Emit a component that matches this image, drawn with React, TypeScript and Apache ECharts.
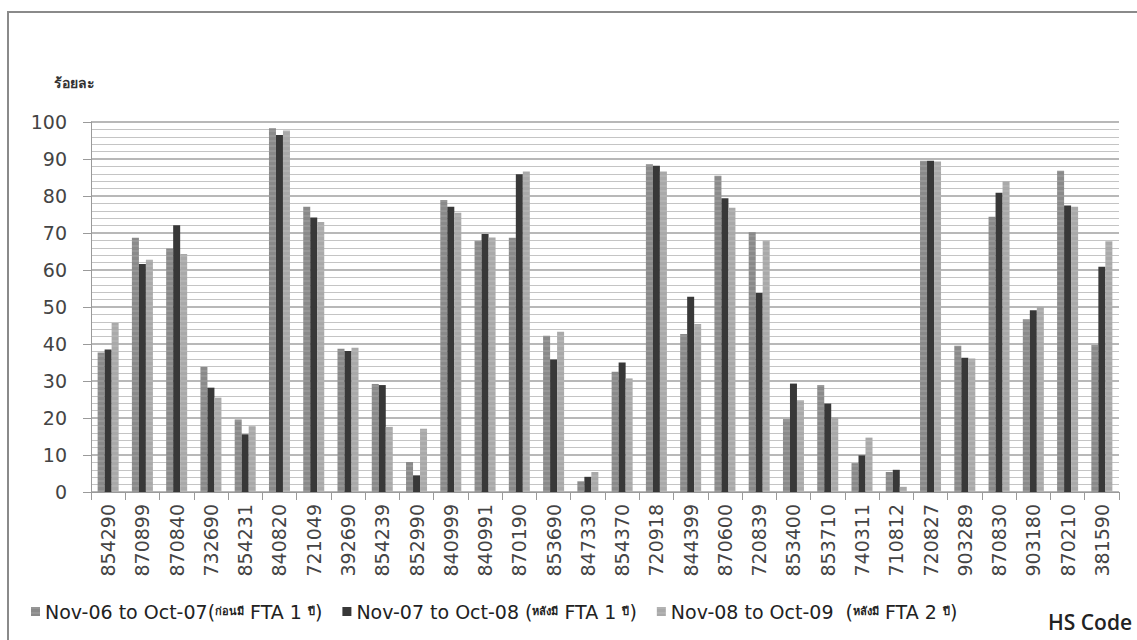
import React, { useEffect, useRef } from "react";
import * as echarts from "echarts";

// HS codes on the category axis
const hsCodes = [
  "854290", "870899", "870840", "732690", "854231", "840820", "721049", "392690",
  "854239", "852990", "840999", "840991", "870190", "853690", "847330", "854370",
  "720918", "844399", "870600", "720839", "853400", "853710", "740311", "710812",
  "720827", "903289", "870830", "903180", "870210", "381590",
];

const seriesNames = [
  "Nov-06 to Oct-07(ก่อนมี FTA 1 ปี)",
  "Nov-07 to Oct-08 (หลังมี FTA 1 ปี)",
  "Nov-08 to Oct-09  (หลังมี FTA 2 ปี)",
];

// percentage per HS code, one array per period
const period1 = [
  37.7, 68.7, 65.8, 33.8, 19.6, 98.3, 77.1, 38.7, 29.2, 8.1,
  78.9, 67.9, 68.7, 42.2, 2.9, 32.5, 88.6, 42.7, 85.5, 70.2,
  19.7, 28.9, 7.8, 5.4, 89.5, 39.5, 74.4, 46.7, 86.8, 39.7,
];
const period2 = [
  38.5, 61.6, 72.1, 28.2, 15.6, 96.5, 74.2, 38.1, 28.9, 4.5,
  77.1, 69.7, 85.9, 35.8, 4.1, 35.0, 88.2, 52.8, 79.4, 53.8,
  29.3, 23.9, 9.9, 6.0, 89.5, 36.3, 80.9, 49.1, 77.4, 60.9,
];
const period3 = [
  45.7, 62.8, 64.3, 25.5, 17.8, 97.7, 73.0, 39.0, 17.6, 17.1,
  75.5, 68.8, 86.6, 43.3, 5.4, 30.7, 86.6, 45.4, 76.8, 67.9,
  24.8, 20.1, 14.7, 1.4, 89.3, 36.1, 84.0, 50.0, 77.1, 67.8,
];

const yTicks = { min: 0, max: 100, interval: 10 };

const seriesColors = ["#8a8a8a", "#383838", "#a9a9a9"];

const FONT = "DejaVu Sans, Verdana, sans-serif";

// Thai runs in the legend are set in a smaller bold face
function legendRich(name: string): string {
  const parts = name.match(/[\u0E00-\u0E7F]+|[^\u0E00-\u0E7F]+/g) || [name];
  return parts
    .map((p) => (/[\u0E00-\u0E7F]/.test(p) ? `{t|${p}}` : `{a|${p}}`))
    .join("");
}

export default function App() {
  const ref = useRef<HTMLDivElement>(null);

  useEffect(() => {
    if (!ref.current) return;
    const chart = echarts.init(ref.current, undefined, { renderer: "svg" });
    const values = [period1, period2, period3];

    chart.setOption({
      animation: false,
      backgroundColor: "#ffffff",
      textStyle: { fontFamily: FONT },
      grid: { left: 91, right: 18, top: 122, bottom: 148 },
      legend: {
        left: 26,
        top: 597,
        icon: "rect",
        itemWidth: 9,
        itemHeight: 9,
        itemGap: 20,
        data: seriesNames,
        formatter: (n: string) => legendRich(n),
        textStyle: {
          rich: {
            a: { fontSize: 19, color: "#222", fontFamily: FONT },
            t: { fontSize: 11, fontWeight: "bold", color: "#222" },
          },
        },
      },
      xAxis: {
        type: "category",
        data: hsCodes,
        axisLine: { lineStyle: { color: "#9a9a9a", width: 1 } },
        axisTick: { show: true, length: 8, lineStyle: { color: "#9a9a9a" } },
        axisLabel: {
          rotate: 90,
          interval: 0,
          fontSize: 19,
          color: "#444",
          margin: 12,
          fontFamily: FONT,
        },
      },
      yAxis: {
        type: "value",
        min: yTicks.min,
        max: yTicks.max,
        interval: yTicks.interval,
        axisLine: { show: true, lineStyle: { color: "#9a9a9a" } },
        axisTick: { show: true, length: 8, lineStyle: { color: "#9a9a9a" } },
        axisLabel: { fontSize: 19, color: "#444", margin: 24, fontFamily: FONT },
        splitLine: { show: true, lineStyle: { color: "#a0a0a0", width: 1.5 } },
        minorTick: { show: false, splitNumber: 5 },
        minorSplitLine: { show: true, lineStyle: { color: "#c4c4c4", width: 1.2 } },
      },
      series: seriesNames.map((name, i) => ({
        name,
        type: "bar",
        data: values[i],
        barWidth: 7,
        barGap: "0%",
        itemStyle: {
          color: seriesColors[i],
          decal:
            i === 1
              ? undefined
              : {
                  symbol: "rect",
                  symbolSize: 0.6,
                  color: "rgba(255,255,255,0.35)",
                  dashArrayX: [1, 0],
                  dashArrayY: [2, 3],
                  rotation: 0,
                },
        },
      })),
      graphic: [
        {
          type: "rect",
          silent: true,
          shape: { x: 8, y: 12, width: 1200, height: 700 },
          style: { fill: "none", stroke: "#8a8a8a", lineWidth: 2 },
        },
        {
          type: "text",
          left: 54,
          top: 76,
          style: {
            text: "ร้อยละ",
            font: "bold 14px sans-serif",
            fill: "#333",
          },
        },
        {
          type: "text",
          left: 1048,
          top: 611,
          style: {
            text: "HS Code",
            font: "600 21px Open Sans, sans-serif",
            fill: "#222",
          },
        },
      ],
    });

    return () => chart.dispose();
  }, []);

  return (
    <div
      ref={ref}
      style={{ position: "fixed", left: 0, top: 0, width: 1137, height: 640 }}
    />
  );
}
